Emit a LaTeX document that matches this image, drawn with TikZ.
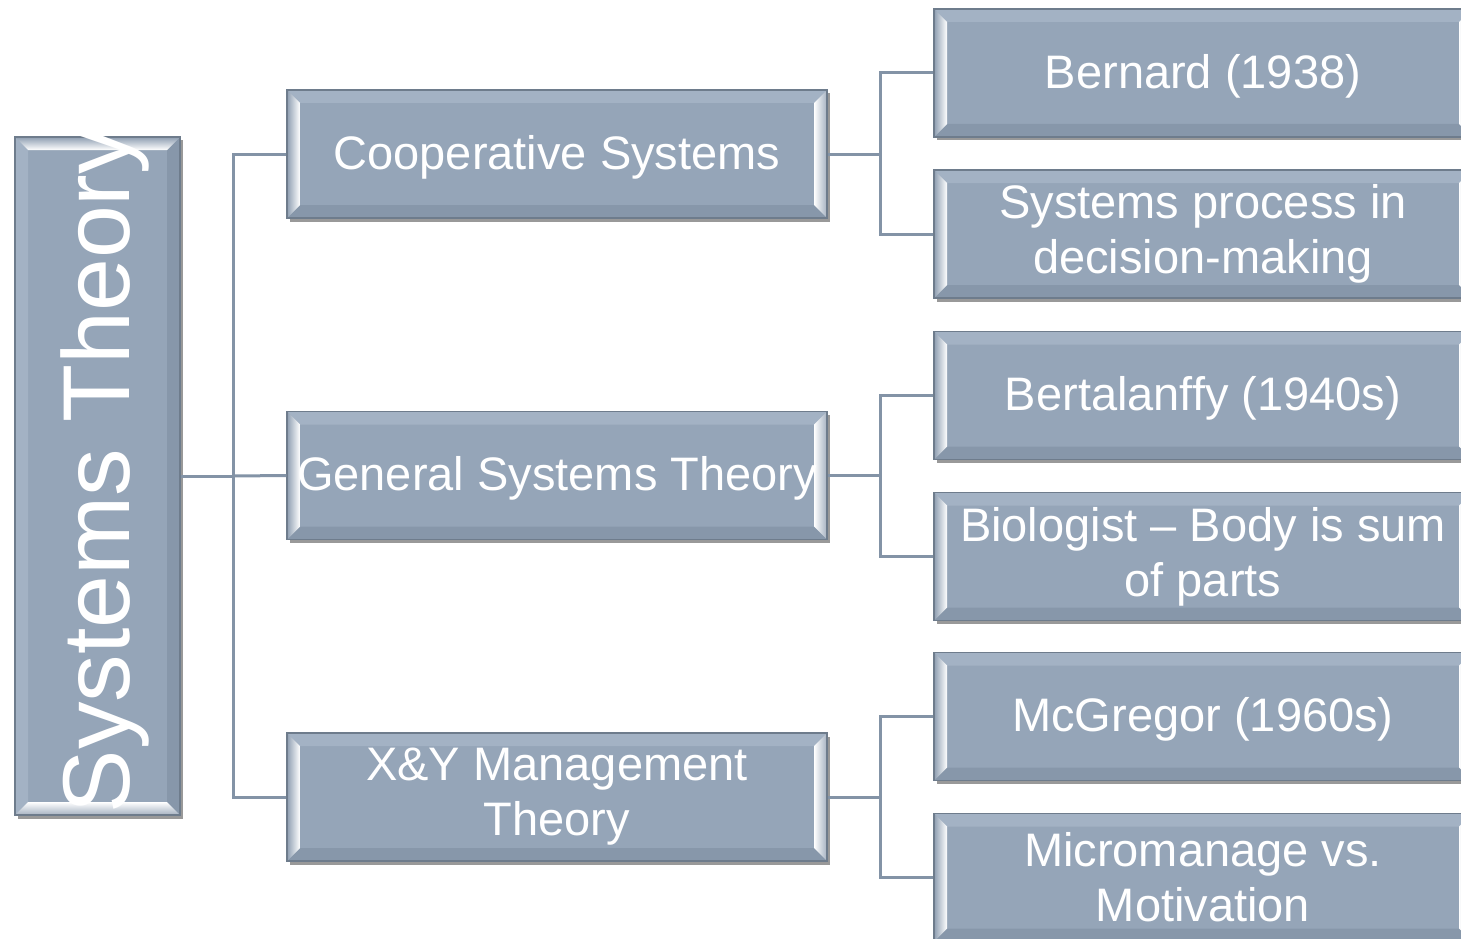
\documentclass[tikz,border=0pt]{standalone}
\usepackage{fontspec}
\setmainfont{Liberation Sans}
\usetikzlibrary{shadows,calc}
\definecolor{boxfill}{HTML}{95A5B8}
\definecolor{boxline}{HTML}{6E7C8C}
\definecolor{bevtop}{HTML}{A3B2C4}
\definecolor{bevbot}{HTML}{8797AA}
\definecolor{bevside}{HTML}{8E9EB1}
\definecolor{connc}{HTML}{8393A6}
\tikzset{
  bevelH/.style={path picture={
    \path (path picture bounding box.north west) coordinate (bNW)
          (path picture bounding box.north east) coordinate (bNE)
          (path picture bounding box.south west) coordinate (bSW)
          (path picture bounding box.south east) coordinate (bSE);
    \fill[bevtop] (bNW) -- (bNE) -- ([shift={(-13pt,-13pt)}]bNE) -- ([shift={(13pt,-13pt)}]bNW) -- cycle;
    \fill[bevbot] (bSW) -- (bSE) -- ([shift={(-13pt,13pt)}]bSE) -- ([shift={(13pt,13pt)}]bSW) -- cycle;
    \shade[left color=bevside, right color=white] (bNW) -- ([shift={(13pt,-13pt)}]bNW) -- ([shift={(13pt,13pt)}]bSW) -- (bSW) -- cycle;
    \shade[left color=white, right color=bevside!80!white] (bNE) -- ([shift={(-13pt,-13pt)}]bNE) -- ([shift={(-13pt,13pt)}]bSE) -- (bSE) -- cycle;
  }},
  bevelV/.style={path picture={
    \path (path picture bounding box.north west) coordinate (bNW)
          (path picture bounding box.north east) coordinate (bNE)
          (path picture bounding box.south west) coordinate (bSW)
          (path picture bounding box.south east) coordinate (bSE);
    \fill[bevtop] (bNW) -- (bSW) -- ([shift={(13pt,13pt)}]bSW) -- ([shift={(13pt,-13pt)}]bNW) -- cycle;
    \fill[bevbot] (bNE) -- (bSE) -- ([shift={(-13pt,13pt)}]bSE) -- ([shift={(-13pt,-13pt)}]bNE) -- cycle;
    \shade[top color=bevside, bottom color=white] (bNW) -- (bNE) -- ([shift={(-13pt,-13pt)}]bNE) -- ([shift={(13pt,-13pt)}]bNW) -- cycle;
    \shade[top color=white, bottom color=bevside!80!white] (bSW) -- (bSE) -- ([shift={(-13pt,13pt)}]bSE) -- ([shift={(13pt,13pt)}]bSW) -- cycle;
  }},
  boxbase/.style={draw=boxline, line width=1.2pt, fill=boxfill, inner sep=0pt,
    drop shadow={shadow xshift=2.5pt, shadow yshift=-3.5pt, opacity=0.5, fill=black!80},
    text=white, align=center, font=\fontsize{47}{55}\selectfont},
  lvlone/.style={boxbase, bevelH, minimum width=540pt, minimum height=128pt},
  lvltwo/.style={boxbase, bevelH, minimum width=538pt, minimum height=128pt},
  oneline/.style={text depth=4pt},
  rootbox/.style={boxbase, bevelV, minimum width=165pt, minimum height=678pt},
  conn/.style={draw=connc, line width=3pt}
}
\begin{document}
\begin{tikzpicture}[x=1pt,y=-1pt]
\useasboundingbox (0,0) rectangle (1461,939);
\clip (0,0) rectangle (1461,939);
\node[rootbox] (root) at (97.5,476) {};
\node[rotate=90, anchor=base, text=white, font=\fontsize{95}{100}\selectfont] (rootlabel) at (129,470) {Systems Theory};

\node[lvlone, oneline] (c1) at (557,154) {Cooperative Systems};
\node[lvlone, oneline] (c2) at (557,475.5) {General Systems Theory};
\node[lvlone] (c3) at (557,797) {X\&Y Management\\Theory};

\node[lvltwo, oneline] (d1) at (1203,73) {Bernard (1938)};
\node[lvltwo] (d2) at (1203,234) {Systems process in\\decision-making};
\node[lvltwo, oneline] (d3) at (1203,395.5) {Bertalanffy (1940s)};
\node[lvltwo] (d4) at (1203,556.5) {Biologist -- Body is sum\\of parts};
\node[lvltwo, oneline] (d5) at (1203,716.5) {McGregor (1960s)};
\node[lvltwo] (d6) at (1203,877.5) {Micromanage vs.\\Motivation};

\coordinate (rj) at (233,476);
\coordinate (j1) at (880,154);
\coordinate (j2) at (880,475.5);
\coordinate (j3) at (880,797);

\draw[conn] (root.east) -- (rj);
\draw[conn] (rj) |- (c1.west);
\draw[conn] (rj) -- (c2.west);
\draw[conn] (rj) |- (c3.west);

\draw[conn] (c1.east) -- (j1);
\draw[conn] (j1) |- (d1.west);
\draw[conn] (j1) |- (d2.west);
\draw[conn] (c2.east) -- (j2);
\draw[conn] (j2) |- (d3.west);
\draw[conn] (j2) |- (d4.west);
\draw[conn] (c3.east) -- (j3);
\draw[conn] (j3) |- (d5.west);
\draw[conn] (j3) |- (d6.west);
\end{tikzpicture}
\end{document}
